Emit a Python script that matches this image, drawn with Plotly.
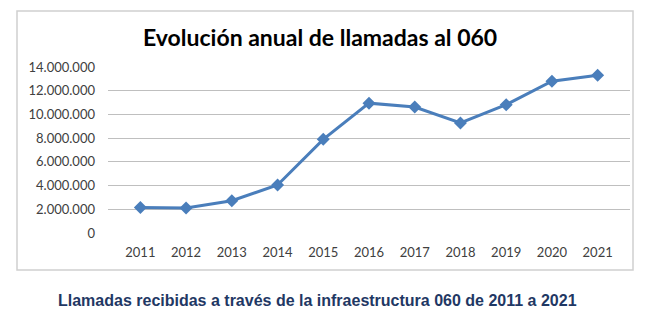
import plotly.graph_objects as go

years = ["2011", "2012", "2013", "2014", "2015", "2016", "2017", "2018", "2019", "2020", "2021"]
calls = [2150000, 2100000, 2720000, 4050000, 7900000, 10950000, 10620000, 9280000, 10820000, 12800000, 13300000]
y_ticks = [0, 2000000, 4000000, 6000000, 8000000, 10000000, 12000000, 14000000]
y_labels = ["0", "2.000.000", "4.000.000", "6.000.000", "8.000.000", "10.000.000", "12.000.000", "14.000.000"]

L, R, T, B = 108, 20, 67, 88
W = 650 - L - R
H = 321 - T - B


def px_x(p):
    return (p - L) / W


def px_y(p):
    return (321 - B - p) / H


fig = go.Figure(go.Scatter(
    x=years, y=calls, mode="lines+markers",
    line=dict(color="#4a7ebb", width=3),
    marker=dict(symbol="diamond", size=10, color="#4a7ebb"),
))

fig.update_layout(
    width=650, height=321,
    margin=dict(l=L, r=R, t=T, b=B),
    paper_bgcolor="white", plot_bgcolor="white",
    showlegend=False,
    font=dict(family="Lato, Open Sans, sans-serif", size=13, color="#404040"),
    xaxis=dict(type="category", showgrid=False, showline=False, zeroline=False,
               ticks="", ticklen=0, ticklabelstandoff=10,
               tickfont=dict(size=13, color="#404040")),
    yaxis=dict(range=[0, 14000000], tickvals=y_ticks, ticktext=y_labels,
               showgrid=True, gridcolor="#bfbfbf", gridwidth=1,
               zeroline=False, showline=False, ticks="", ticklen=0,
               ticklabelstandoff=12,
               tickfont=dict(size=13, color="#404040")),
    shapes=[dict(type="rect", xref="paper", yref="paper",
                 x0=px_x(17), x1=px_x(633), y0=px_y(270), y1=px_y(11),
                 line=dict(color="#d0d0d0", width=1.5))],
    annotations=[
        dict(text="<b>Evolución anual de llamadas al 060</b>", x=px_x(320), y=px_y(37),
             xref="paper", yref="paper", showarrow=False, xanchor="center", yanchor="middle",
             font=dict(family="Lato, Open Sans, sans-serif", size=23, color="black")),
        dict(text="<b>Llamadas recibidas a través de la infraestructura 060 de 2011 a 2021</b>",
             x=px_x(317), y=px_y(300), xref="paper", yref="paper", showarrow=False,
             xanchor="center", yanchor="middle",
             font=dict(family="Liberation Sans Narrow, Arial Narrow, Liberation Sans, sans-serif",
                       size=16, color="#1f3864")),
    ],
)

fig.write_html("out.html")
